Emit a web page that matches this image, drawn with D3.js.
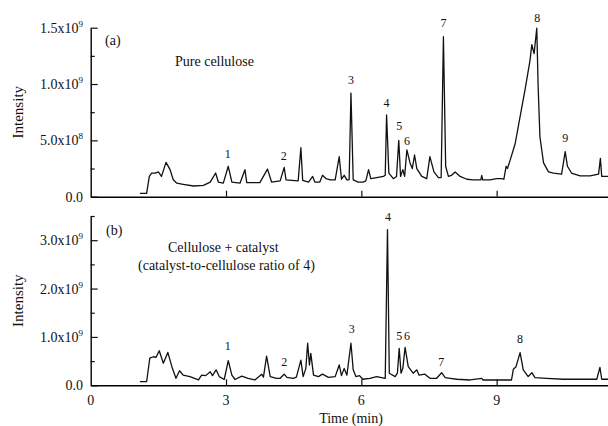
<!DOCTYPE html>
<html>
<head>
<meta charset="utf-8">
<script src="https://cdn.jsdelivr.net/npm/d3@7"></script>
<style>
  body { margin: 0; background: #fff; }
  text { font-family: "Liberation Serif", "Times New Roman", serif; fill: #111; }
</style>
</head>
<body>
<svg id="plot" width="608" height="426"></svg>
<script>
// chromatogram traces: [time (min), intensity (x10^9)]
const traceA = [
  [1.09,0.03],[1.24,0.03],[1.30,0.18],[1.35,0.21],[1.43,0.21],[1.50,0.22],[1.57,0.18],[1.67,0.305],
  [1.76,0.24],[1.83,0.15],[1.91,0.12],[2.05,0.11],[2.28,0.095],[2.50,0.10],[2.65,0.13],[2.77,0.21],
  [2.83,0.13],[2.94,0.12],[3.05,0.27],[3.13,0.13],[3.31,0.12],[3.42,0.24],[3.46,0.125],[3.75,0.125],
  [3.92,0.245],[4.01,0.13],[4.20,0.14],[4.29,0.26],[4.33,0.15],[4.46,0.145],[4.60,0.14],[4.66,0.435],
  [4.70,0.145],[4.83,0.13],[4.92,0.18],[4.97,0.13],[5.08,0.13],[5.14,0.19],[5.22,0.16],[5.31,0.15],
  [5.42,0.15],[5.51,0.355],[5.56,0.155],[5.62,0.19],[5.68,0.15],[5.73,0.15],[5.77,0.92],[5.82,0.15],
  [5.93,0.13],[6.04,0.13],[6.10,0.14],[6.16,0.24],[6.21,0.16],[6.34,0.17],[6.49,0.18],[6.53,0.19],
  [6.56,0.725],[6.61,0.21],[6.71,0.16],[6.78,0.18],[6.83,0.50],[6.87,0.18],[6.92,0.24],[6.96,0.18],
  [7.01,0.415],[7.08,0.30],[7.13,0.25],[7.18,0.37],[7.23,0.25],[7.34,0.18],[7.45,0.16],[7.52,0.355],
  [7.61,0.22],[7.71,0.17],[7.77,0.17],[7.82,1.42],[7.87,0.27],[7.93,0.18],[8.00,0.19],[8.08,0.22],
  [8.19,0.18],[8.34,0.155],[8.48,0.15],[8.65,0.15],[8.67,0.19],[8.69,0.15],[8.85,0.15],[9.00,0.16],
  [9.11,0.16],[9.16,0.155],[9.21,0.27],[9.24,0.25],[9.30,0.325],[9.41,0.47],[9.52,0.71],[9.63,0.95],
  [9.74,1.21],[9.78,1.35],[9.83,1.27],[9.89,1.495],[9.92,0.98],[9.96,0.53],[10.04,0.30],[10.15,0.22],
  [10.26,0.21],[10.44,0.20],[10.52,0.40],[10.57,0.27],[10.66,0.21],[10.85,0.185],[11.07,0.185],
  [11.26,0.20],[11.30,0.34],[11.33,0.18],[11.48,0.18]
];
const traceB = [
  [1.09,0.075],[1.24,0.075],[1.31,0.56],[1.39,0.59],[1.45,0.58],[1.52,0.715],[1.61,0.455],[1.71,0.68],
  [1.80,0.385],[1.89,0.145],[1.97,0.30],[2.05,0.21],[2.20,0.18],[2.39,0.11],[2.46,0.21],[2.55,0.20],
  [2.65,0.28],[2.70,0.20],[2.78,0.32],[2.85,0.18],[2.96,0.12],[3.05,0.51],[3.13,0.21],[3.20,0.12],
  [3.35,0.19],[3.49,0.145],[3.64,0.11],[3.79,0.23],[3.83,0.17],[3.90,0.605],[3.98,0.18],[4.12,0.145],
  [4.20,0.145],[4.29,0.23],[4.35,0.165],[4.49,0.145],[4.56,0.17],[4.66,0.52],[4.71,0.18],[4.77,0.35],
  [4.81,0.87],[4.85,0.42],[4.88,0.66],[4.94,0.21],[5.05,0.18],[5.14,0.23],[5.27,0.165],[5.42,0.18],
  [5.51,0.42],[5.56,0.20],[5.62,0.35],[5.68,0.21],[5.77,0.87],[5.82,0.32],[5.88,0.18],[5.96,0.20],
  [6.03,0.125],[6.19,0.145],[6.34,0.18],[6.53,0.145],[6.58,3.22],[6.62,0.25],[6.75,0.18],[6.80,0.25],
  [6.84,0.765],[6.88,0.25],[6.92,0.35],[6.97,0.785],[7.04,0.385],[7.15,0.25],[7.23,0.32],[7.28,0.21],
  [7.41,0.23],[7.52,0.145],[7.67,0.145],[7.78,0.26],[7.86,0.16],[7.97,0.145],[8.12,0.125],[8.41,0.11],
  [8.67,0.145],[8.70,0.11],[9.00,0.11],[9.22,0.11],[9.33,0.11],[9.37,0.33],[9.43,0.385],[9.52,0.675],
  [9.59,0.32],[9.70,0.18],[9.78,0.26],[9.85,0.16],[10.11,0.145],[10.48,0.125],[10.85,0.125],
  [11.22,0.125],[11.29,0.37],[11.33,0.125],[11.48,0.125]
];
// peak numbers: [label, time, intensity of label baseline]
const peaksA = [["1",3.04,0.343],["2",4.28,0.326],["3",5.77,1.00],["4",6.56,0.796],["5",6.84,0.592],
  ["6",7.01,0.459],["7",7.82,1.506],["8",9.90,1.55],["9",10.52,0.485]];
const peaksB = [["1",3.04,0.73],["2",4.29,0.40],["3",5.79,1.08],["4",6.59,3.39],["5",6.84,0.93],
  ["6",7.01,0.93],["7",7.77,0.40],["8",9.52,0.874]];
const xTicks = [0, 3, 6, 9];
const yTicksA = [0, 0.5, 1.0, 1.5];
const yLabelsA = [["0.0",""],["5.0x10","8"],["1.0x10","9"],["1.5x10","9"]];
const yMinorA = [0.25, 0.75, 1.25];
const yTicksB = [0, 1, 2, 3];
const yLabelsB = [["0.0",""],["1.0x10","9"],["2.0x10","9"],["3.0x10","9"]];
const yMinorB = [0.5, 1.5, 2.5, 3.5];

const svg = d3.select("#plot");
const x = d3.scaleLinear([0, 11.5], [90.7, 609.4]);

function panel(o) {
  const y = d3.scaleLinear([0, o.ymax], [o.bottom, o.top]);
  const g = svg.append("g");
  // y axis, ticks pointing inward
  g.append("g")
    .attr("transform", `translate(${x(0)},0)`)
    .call(d3.axisLeft(y).tickValues(o.yMinor).tickSize(-4).tickFormat("").tickSizeOuter(0))
    .call((a) => a.select(".domain").remove());
  g.append("g")
    .attr("transform", `translate(${x(0)},0)`)
    .call(d3.axisLeft(y).tickValues(o.yTicks).tickSize(-7).tickFormat("").tickSizeOuter(0))
    .call((a) => a.select(".domain").attr("stroke-width", 1.4));
  // x axis
  g.append("g")
    .attr("transform", `translate(0,${o.bottom})`)
    .call(d3.axisBottom(x).tickValues(xTicks.filter((d) => d > 0)).tickSize(-6)
      .tickFormat("").tickSizeOuter(0))
    .call((a) => a.select(".domain").attr("stroke-width", 1.4));
  g.selectAll(".tick line").attr("stroke", "#111").attr("stroke-width", 1.2);
  // y tick labels with superscript
  const lab = g.selectAll(".ylab").data(o.yTicks).join("text")
    .attr("class", "ylab")
    .attr("x", 83)
    .attr("y", (d) => y(d) + 5)
    .attr("text-anchor", "end")
    .attr("font-size", 14);
  lab.append("tspan").text((d, i) => o.yLabels[i][0]);
  lab.append("tspan").attr("dy", -6).attr("font-size", 9).text((d, i) => o.yLabels[i][1]);
  // trace
  g.append("path")
    .datum(o.trace)
    .attr("fill", "none")
    .attr("stroke", "#111")
    .attr("stroke-width", 1.3)
    .attr("stroke-linejoin", "round")
    .attr("d", d3.line((d) => x(d[0]), (d) => y(d[1])));
  // peak numbers
  g.selectAll(".pk").data(o.peaks).join("text")
    .attr("x", (d) => x(d[1]))
    .attr("y", (d) => y(d[2]))
    .attr("text-anchor", "middle")
    .attr("font-size", 12)
    .text((d) => d[0]);
  // y title
  g.append("text")
    .attr("transform", `translate(23,${(o.top + o.bottom) / 2}) rotate(-90)`)
    .attr("text-anchor", "middle")
    .attr("font-size", 15)
    .text("Intensity");
  return g;
}

const ga = panel({ trace: traceA, peaks: peaksA, ymax: 1.5, top: 27.7, bottom: 196.7,
  yTicks: yTicksA, yLabels: yLabelsA, yMinor: yMinorA });
ga.append("text").attr("x", 105).attr("y", 45).attr("font-size", 14).text("(a)");
ga.append("text").attr("x", 175).attr("y", 66).attr("font-size", 14).text("Pure cellulose");

const gb = panel({ trace: traceB, peaks: peaksB, ymax: 3.5, top: 216, bottom: 385.3,
  yTicks: yTicksB, yLabels: yLabelsB, yMinor: yMinorB });
gb.append("text").attr("x", 106).attr("y", 235).attr("font-size", 14).text("(b)");
gb.append("text").attr("x", 168).attr("y", 252).attr("font-size", 14).text("Cellulose + catalyst");
gb.append("text").attr("x", 138).attr("y", 270).attr("font-size", 14)
  .text("(catalyst-to-cellulose ratio of 4)");

// x tick labels and title
svg.selectAll(".xlab").data(xTicks).join("text")
  .attr("x", (d) => x(d))
  .attr("y", 405)
  .attr("text-anchor", "middle")
  .attr("font-size", 14)
  .text((d) => d);
svg.append("text").attr("x", 351).attr("y", 423).attr("text-anchor", "middle")
  .attr("font-size", 14).text("Time (min)");
</script>
</body>
</html>
